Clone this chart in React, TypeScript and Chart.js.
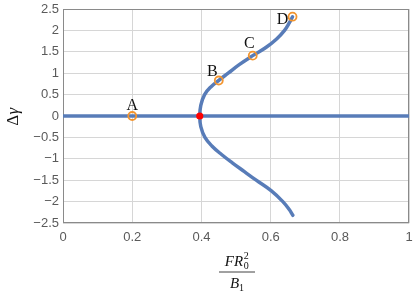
import React, { useEffect, useRef } from "react";
import { Chart, registerables } from "chart.js";

Chart.register(...registerables);

// ---- data ----
const xTickValues = [0, 0.2, 0.4, 0.6, 0.8, 1];
const xTickLabels = ["0", "0.2", "0.4", "0.6", "0.8", "1"];
const yTickValues = [-2.5, -2, -1.5, -1, -0.5, 0, 0.5, 1, 1.5, 2, 2.5];
const yTickLabels = ["−2.5", "−2", "−1.5", "−1", "−0.5", "0", "0.5", "1", "1.5", "2", "2.5"];

const zeroLineX = [0, 1];
const zeroLineY = [0, 0];

// upper branch (from the bifurcation point up to D)
const upperX = [0.395, 0.398, 0.409, 0.427, 0.451, 0.477, 0.509, 0.548, 0.586, 0.617, 0.64, 0.654, 0.663];
const upperY = [0, 0.25, 0.5, 0.68, 0.84, 1.0, 1.2, 1.41, 1.6, 1.8, 2.0, 2.18, 2.32];
// lower branch (from the bifurcation point down)
const lowerX = [0.395, 0.398, 0.41, 0.43, 0.458, 0.49, 0.524, 0.558, 0.602, 0.635, 0.653, 0.664];
const lowerY = [0, -0.25, -0.5, -0.7, -0.9, -1.1, -1.3, -1.5, -1.75, -2.0, -2.18, -2.32];

const markerNames = ["A", "B", "C", "D"];
const markerX = [0.2, 0.45, 0.548, 0.663];
const markerY = [0, 0.83, 1.41, 2.32];
// label offsets (px) from point to text baseline-center
const labelDx = [0, -6.5, -3.5, -10];
const labelDy = [-6, -4, -7.5, 7];

const bifX = [0.395];
const bifY = [0];

const BLUE = "#587cb8";
const ORANGE = "#f3952f";

export default function App() {
  const ref = useRef<HTMLCanvasElement | null>(null);

  useEffect(() => {
    document.body.style.margin = "0";
    const canvas = ref.current;
    if (!canvas) return;

    const curve = [
      ...lowerX.map((x, i) => ({ x, y: lowerY[i] })).reverse(),
      ...upperX.slice(1).map((x, i) => ({ x, y: upperY[i + 1] })),
    ];

    const decor = {
      id: "decor",
      beforeDatasetsDraw(chart: any) {
        const { ctx, chartArea: a } = chart;
        ctx.save();
        ctx.strokeStyle = "#8a8a8a";
        ctx.lineWidth = 1;
        ctx.strokeRect(Math.round(a.left) + 0.5, Math.round(a.top) + 0.5, Math.round(a.right - a.left) - 1, Math.round(a.bottom - a.top) - 1);
        ctx.restore();
      },
      afterDraw(chart: any) {
        const { ctx } = chart;
        const meta = chart.getDatasetMeta(2);
        ctx.save();
        ctx.fillStyle = "#111";
        ctx.font = "16px 'Liberation Serif', serif";
        ctx.textAlign = "center";
        ctx.textBaseline = "alphabetic";
        meta.data.forEach((el: any, i: number) => {
          ctx.fillText(markerNames[i], el.x + labelDx[i], el.y + labelDy[i]);
        });

        // y-axis title: Δγ
        ctx.save();
        ctx.translate(18, 117);
        ctx.rotate(-Math.PI / 2);
        ctx.textAlign = "left";
        ctx.font = "17px 'Liberation Serif', serif";
        const w1 = ctx.measureText("Δ").width;
        ctx.font = "italic 17px 'Liberation Serif', serif";
        const w2 = ctx.measureText("γ").width;
        const start = -(w1 + w2) / 2;
        ctx.font = "17px 'Liberation Serif', serif";
        ctx.fillText("Δ", start, 0);
        ctx.font = "italic 17px 'Liberation Serif', serif";
        ctx.fillText("γ", start + w1 + 0.5, 0);
        ctx.restore();

        // x-axis title: F R0^2 / B1
        const cx = 237;
        ctx.textAlign = "left";
        ctx.font = "italic 15px 'Liberation Serif', serif";
        const fr = "FR";
        const wFR = ctx.measureText(fr).width;
        ctx.font = "10px 'Liberation Serif', serif";
        const wS = ctx.measureText("0").width;
        const numW = wFR + 1 + wS;
        const nx = cx - numW / 2;
        ctx.font = "italic 15px 'Liberation Serif', serif";
        ctx.fillText(fr, nx, 266);
        ctx.font = "10px 'Liberation Serif', serif";
        ctx.fillText("2", nx + wFR + 0.5, 259);
        ctx.fillText("0", nx + wFR + 0.5, 269);
        ctx.strokeStyle = "#111";
        ctx.lineWidth = 0.8;
        ctx.beginPath();
        ctx.moveTo(219, 272);
        ctx.lineTo(255, 272);
        ctx.stroke();
        ctx.font = "italic 15px 'Liberation Serif', serif";
        const wB = ctx.measureText("B").width;
        ctx.font = "10px 'Liberation Serif', serif";
        const w1b = ctx.measureText("1").width;
        const bx = cx - (wB + w1b) / 2;
        ctx.font = "italic 15px 'Liberation Serif', serif";
        ctx.fillText("B", bx, 288);
        ctx.font = "10px 'Liberation Serif', serif";
        ctx.fillText("1", bx + wB, 291);
        ctx.restore();
      },
    };

    const tickFont = { family: "'Liberation Sans', Arial, sans-serif", size: 13 };

    const chart = new Chart(canvas, {
      type: "scatter",
      data: {
        datasets: [
          {
            type: "line",
            data: zeroLineX.map((x, i) => ({ x, y: zeroLineY[i] })),
            borderColor: BLUE,
            borderWidth: 3.5,
            pointRadius: 0,
            fill: false,
            order: 5,
          },
          {
            type: "line",
            data: curve,
            borderColor: BLUE,
            borderWidth: 3.5,
            pointRadius: 0,
            fill: false,
            tension: 0.4,
            borderCapStyle: "round",
            order: 4,
          },
          {
            data: markerX.map((x, i) => ({ x, y: markerY[i] })),
            showLine: false,
            pointRadius: 4,
            pointBorderWidth: 1.8,
            pointBorderColor: ORANGE,
            pointBackgroundColor: "rgba(0,0,0,0)",
            order: 2,
          },
          {
            data: bifX.map((x, i) => ({ x, y: bifY[i] })),
            showLine: false,
            pointRadius: 3.6,
            pointBorderWidth: 0,
            pointBackgroundColor: "#ff0000",
            order: 1,
          },
        ],
      } as any,
      options: {
        animation: false,
        responsive: false,
        events: [],
        layout: { padding: { left: 0, right: 5, top: 9, bottom: 0 } },
        plugins: { legend: { display: false }, tooltip: { enabled: false } },
        scales: {
          x: {
            type: "linear",
            min: 0,
            max: 1,
            afterBuildTicks: (s: any) => {
              s.ticks = xTickValues.map((v) => ({ value: v }));
            },
            afterFit: (s: any) => {
              s.height = 74;
            },
            ticks: {
              callback: (_v: any, i: number) => xTickLabels[i],
              color: "#5a5a5a",
              font: tickFont,
              padding: 0,
              maxRotation: 0,
            },
            grid: { color: "#d6d6d6", lineWidth: 1, drawTicks: true, tickLength: 7, tickColor: "rgba(0,0,0,0)" },
            border: { display: false },
          },
          y: {
            type: "linear",
            min: -2.5,
            max: 2.5,
            afterBuildTicks: (s: any) => {
              s.ticks = yTickValues.map((v) => ({ value: v }));
            },
            afterFit: (s: any) => {
              s.width = 63;
            },
            ticks: {
              callback: (_v: any, i: number) => yTickLabels[i],
              color: "#5a5a5a",
              font: tickFont,
              padding: 0,
            },
            grid: { color: "#d6d6d6", lineWidth: 1, drawTicks: true, tickLength: 4, tickColor: "rgba(0,0,0,0)" },
            border: { display: false },
          },
        },
      } as any,
      plugins: [decor],
    });

    return () => chart.destroy();
  }, []);

  return (
    <div style={{ width: 415, height: 297 }}>
      <canvas ref={ref} width={415} height={297} style={{ width: 415, height: 297, display: "block" }} />
    </div>
  );
}
